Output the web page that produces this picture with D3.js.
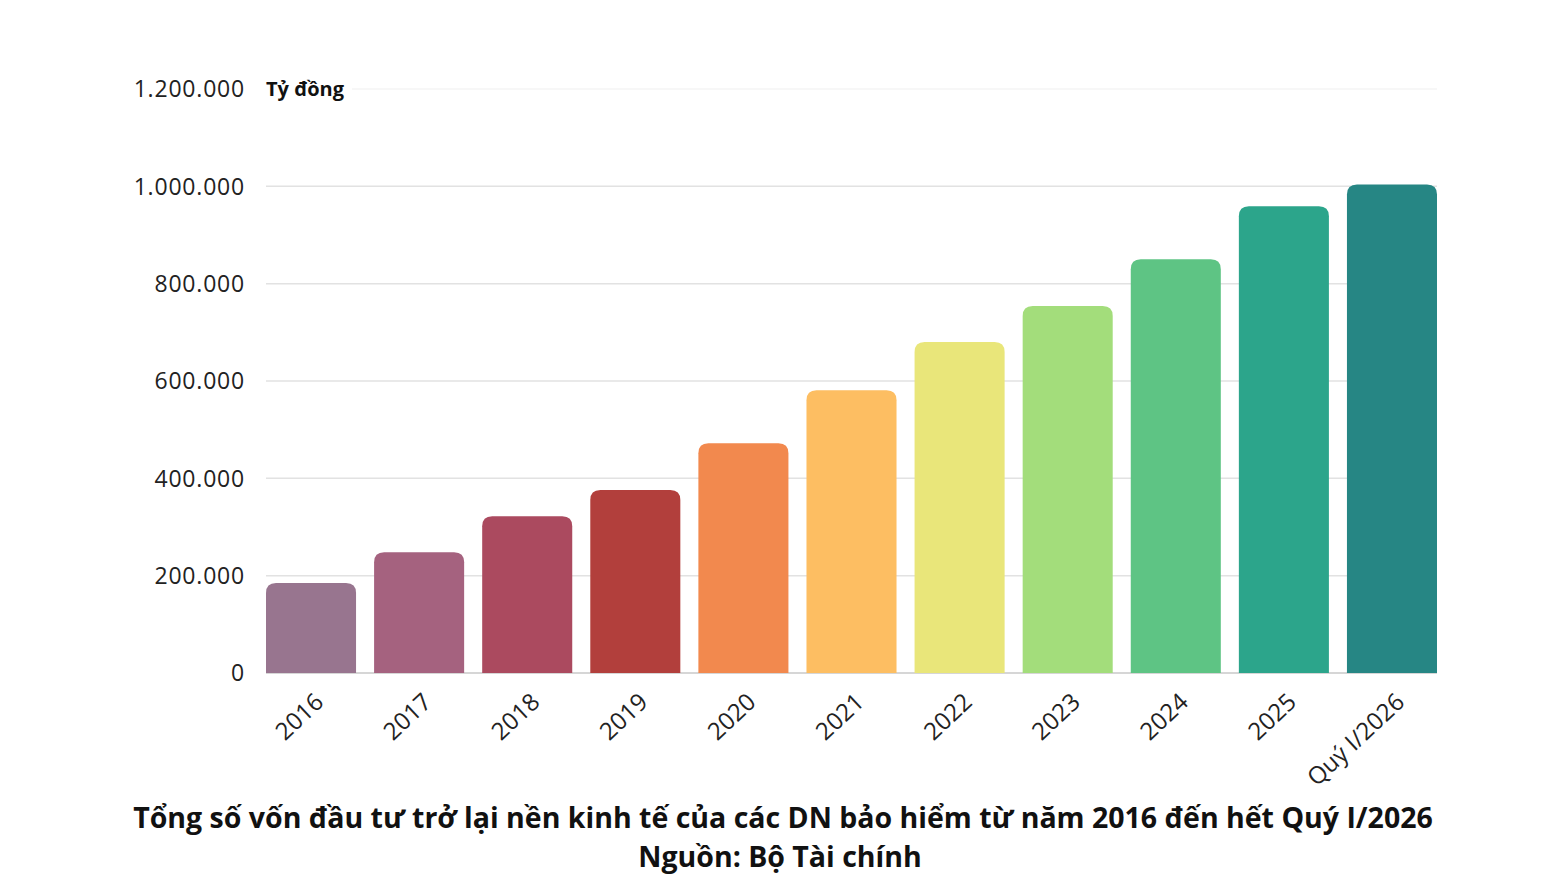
<!DOCTYPE html>
<html><head><meta charset="utf-8">
<script src="https://cdn.jsdelivr.net/npm/d3@7/dist/d3.min.js"></script>
<style>body{margin:0;background:#fff;} svg{display:block;}</style>
</head><body>
<svg id="c" width="1552" height="892"></svg>
<script>
const categories = ["2016","2017","2018","2019","2020","2021","2022","2023","2024","2025","Quý I/2026"];
const values = [185000, 248000, 322000, 376000, 472000, 581000, 680000, 754000, 850000, 959000, 1004000];
const colors = ["#98758f","#a5627f","#ab4a5f","#b23f3c","#f2894e","#fdbe62","#e9e67a","#a3dd7b","#5ec484","#2ca58b","#268684"];
const yTicks = [0, 200000, 400000, 600000, 800000, 1000000, 1200000];
const unitLabel = "Tỷ đồng";
const title = "Tổng số vốn đầu tư trở lại nền kinh tế của các DN bảo hiểm từ năm 2016 đến hết Quý I/2026";
const source = "Nguồn: Bộ Tài chính";

const svg = d3.select("#c");
const font = "'Open Sans', 'Noto Sans', sans-serif";
const x = d3.scaleBand().domain(categories).range([266, 1437]).paddingInner(0.167).paddingOuter(0);
const y = d3.scaleLinear().domain([0, 1200000]).range([673, 89]);
const fmt = v => d3.format(",")(v).replace(/,/g, ".");

// gridlines
svg.append("g").selectAll("line").data(yTicks).join("line")
  .attr("x1", d => d === 1200000 ? 352 : 266).attr("x2", 1437)
  .attr("y1", d => y(d)).attr("y2", d => y(d))
  .attr("stroke", d => d === 0 ? "#c8c8c8" : (d === 1200000 ? "#f4f4f4" : "#e2e2e2"))
  .attr("stroke-width", 1.5);

// y labels
svg.append("g").selectAll("text").data(yTicks).join("text")
  .attr("x", 245).attr("y", d => y(d)).attr("dy", "0.36em")
  .attr("text-anchor", "end").attr("font-family", font).attr("font-size", 23)
  .attr("letter-spacing", 0.8)
  .attr("fill", "#222").text(d => fmt(d));

svg.append("text").attr("x", 266).attr("y", y(1200000)).attr("dy", "0.36em")
  .attr("font-family", font).attr("font-weight", "bold").attr("font-size", 20)
  .attr("fill", "#111").text(unitLabel);

// bars with rounded tops
const r = 10;
svg.append("g").selectAll("path").data(categories).join("path")
  .attr("fill", (d, i) => colors[i])
  .attr("d", (d, i) => {
    const x0 = x(d), w = x.bandwidth(), y0 = y(values[i]), yb = y(0);
    return `M${x0},${yb}V${y0 + r}Q${x0},${y0} ${x0 + r},${y0}H${x0 + w - r}Q${x0 + w},${y0} ${x0 + w},${y0 + r}V${yb}Z`;
  });

// x labels
svg.append("g").selectAll("text").data(categories).join("text")
  .attr("text-anchor", "end").attr("font-family", font).attr("font-size", 24)
  .attr("fill", "#222")
  .attr("transform", d => `translate(${x(d) + x.bandwidth() / 2 + 14},${704}) rotate(-43)`)
  .text(d => d);

svg.append("text").attr("x", 783).attr("y", 828).attr("text-anchor", "middle")
  .attr("font-family", font).attr("font-weight", "bold").attr("font-size", 28.5)
  .attr("fill", "#111").text(title);
svg.append("text").attr("x", 780).attr("y", 867).attr("text-anchor", "middle")
  .attr("font-family", font).attr("font-weight", "bold").attr("font-size", 28.5)
  .attr("fill", "#111").text(source);
</script>
</body></html>
